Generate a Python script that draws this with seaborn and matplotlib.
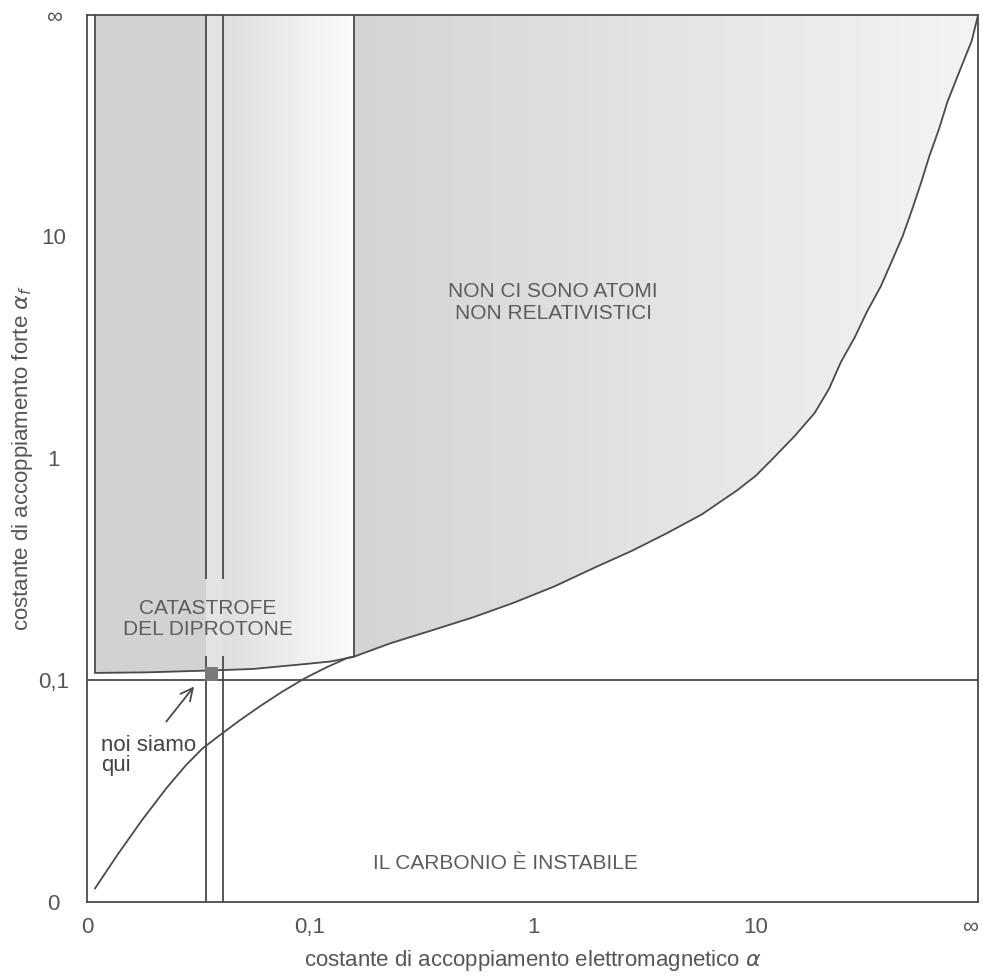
import numpy as np
import matplotlib
matplotlib.use("Agg")
import matplotlib.pyplot as plt
import seaborn as sns
from matplotlib import font_manager
from matplotlib.colors import LinearSegmentedColormap

np.seterr(divide="ignore", invalid="ignore")

INF = 1e300  # stands in for the "infinity" end of both axes

# ticks (same on both axes)
tick_values = [0, 0.1, 1, 10, INF]
tick_labels = ["0", "0,1", "1", "10", "\u221e"]

# carbon stability boundary: alpha (em) vs alpha_s (strong)
curve_alpha = [1e-36, 7.4e-10, 8.5e-6, 3.3e-4, 1.76e-3, 4.7e-3, 9.8e-3, 0.021, 0.037,
               0.061, 0.092, 0.129, 0.172, 0.1855, 0.281, 0.413, 0.608, 0.854, 1.19,
               1.69, 2.29, 3.22, 4.76, 7.5, 10, 13.5, 20.9, 34, 51.8, 77.4, 138, 251,
               596, 1422, 4253, 1.5e4, 6.9e4, 4.7e5, 1.15e7, 8.7e8, 9e14, 4e38, INF]
curve_alphas = [1e-21, 1.45e-6, 4.6e-4, 4.5e-3, 0.0125, 0.0219, 0.0311, 0.0461, 0.0625,
                0.0823, 0.103, 0.122, 0.140, 0.142, 0.170, 0.198, 0.233, 0.274, 0.325,
                0.394, 0.455, 0.533, 0.629, 0.768, 0.867, 1.0, 1.2, 1.45, 1.78, 2.25,
                2.86, 3.71, 4.96, 6.86, 10, 16.3, 29.9, 66.9, 213, 1300, 1e5, 3e10, INF]

# diprotone boundary (bottom of the shaded block on the left)
dipro_alpha = [1e-36, 2.3e-5, 1 / 180, 1 / 85, 0.031, 0.092, 0.138, 0.1855]
dipro_alphas = [0.112, 0.113, 0.116, 0.117, 0.119, 0.128, 0.133, 0.142]

alpha_min = 1e-36          # left edge of the diprotone block
alpha_band = [1 / 180, 1 / 85]
band_gap = [0.143, 0.35]   # band lines are cut where the label sits
alpha_rel = 0.1855         # relativistic atoms limit
alphas_carbon = 0.1
alpha_here, alphas_here = 1 / 137, 0.11
arrow_tail = (2.7e-4, 0.0427)
arrow_head = (3.3e-3, 0.0932)

LINE = "#4a4a4a"
TEXT = "#5c5c5c"
AXTXT = "#555555"


def fwd(a):
    a = np.asarray(a, dtype=float)
    return 2 + 4 / np.pi * np.arctan(np.log10(a))


def inv(t):
    t = np.asarray(t, dtype=float)
    return 10 ** np.tan((t - 2) * np.pi / 4)


def xfrac(a):
    return float(fwd(a) / fwd(INF))


sns.set_theme(style="white")
plt.rcParams["font.family"] = ["Liberation Sans", "DejaVu Sans"]

# axis texts are set in a condensed face in the original
try:
    font_manager.findfont(font_manager.FontProperties(family="Liberation Sans Narrow"),
                          fallback_to_default=False)
    AX_FAMILY, AX_SIZE = ["Liberation Sans Narrow", "DejaVu Sans"], 18.5
except ValueError:
    AX_FAMILY, AX_SIZE = ["Liberation Sans", "DejaVu Sans"], 16

fig = plt.figure(figsize=(9.83, 9.76), dpi=100)
ax = fig.add_axes([0.0885, 0.0758, 0.9065, 0.9088])
ax.set_xscale("function", functions=(fwd, inv))
ax.set_yscale("function", functions=(fwd, inv))

x = np.array(dipro_alpha)
y = np.array(dipro_alphas)
ca = np.array(curve_alpha)
cs = np.array(curve_alphas)


def shade(xs, y1, y2, where, c0, c1, x0, x1):
    poly = ax.fill_between(xs, y1, y2, where=where, color="none", lw=0)
    cmap = LinearSegmentedColormap.from_list("g", [c0, c1])
    im = ax.imshow(np.linspace(0, 1, 256).reshape(1, -1), cmap=cmap,
                   extent=(x0, x1, 0, 1), transform=ax.transAxes,
                   aspect="auto", zorder=0, interpolation="bilinear")
    im.set_clip_path(poly.get_paths()[0], poly.get_transform())


# shaded regions
ax.fill_between(x, y, INF, where=x <= alpha_band[0], color="#d2d2d2", lw=0, zorder=0.5)
ax.fill_between(x, y, INF, where=(x >= alpha_band[0]) & (x <= alpha_band[1]),
                color="#e3e3e3", lw=0, zorder=0.5)
shade(x, y, INF, x >= alpha_band[1], "#dedede", "#fcfcfc",
      xfrac(alpha_band[1]), xfrac(alpha_rel))
shade(ca, cs, INF, ca >= alpha_rel, "#d4d4d4", "#f4f4f4", xfrac(alpha_rel), 1.0)

# boundaries
sns.lineplot(x=curve_alpha, y=curve_alphas, ax=ax, color=LINE, lw=1.3,
             sort=False, estimator=None)
sns.lineplot(x=dipro_alpha, y=dipro_alphas, ax=ax, color=LINE, lw=1.3,
             sort=False, estimator=None)
ax.vlines(alpha_min, dipro_alphas[0], INF, color=LINE, lw=1.3)
ax.vlines(alpha_rel, dipro_alphas[-1], INF, color=LINE, lw=1.3)
ax.vlines(alpha_band, 0, band_gap[0], color=LINE, lw=1.3)
ax.vlines(alpha_band, band_gap[1], INF, color=LINE, lw=1.3)
ax.hlines(alphas_carbon, 0, INF, color=LINE, lw=1.3)

# we are here
sns.scatterplot(x=[alpha_here], y=[alphas_here], ax=ax, marker="s", s=90,
                color="#7a7a7a", edgecolor="none", zorder=5)
ax.annotate("", xy=arrow_head, xytext=arrow_tail,
            arrowprops=dict(arrowstyle="->", color=LINE, lw=1.3, mutation_scale=22))

# labels inside the plot
ax.text(0.0157, 0.188, "noi siamo\nqui", transform=ax.transAxes, ha="left", va="top",
        fontsize=16, color="#444444", linespacing=0.95)
ax.text(0.136, 0.319, "CATASTROFE\nDEL DIPROTONE", transform=ax.transAxes,
        ha="center", va="center", fontsize=15, color=TEXT, linespacing=1.15)
ax.text(0.523, 0.676, "NON CI SONO ATOMI\nNON RELATIVISTICI", transform=ax.transAxes,
        ha="center", va="center", fontsize=15, color=TEXT, linespacing=1.15)
ax.text(0.47, 0.043, "IL CARBONIO \u00c8 INSTABILE", transform=ax.transAxes,
        ha="center", va="center", fontsize=15, color=TEXT)

# axes
ax.set_xlim(0, INF)
ax.set_ylim(0, INF)
ax.set_xticks(tick_values)
ax.set_xticklabels(tick_labels, family=AX_FAMILY, fontsize=AX_SIZE)
ax.set_yticks(tick_values)
ax.set_yticklabels(tick_labels, family=AX_FAMILY, fontsize=AX_SIZE)
ax.tick_params(axis="both", length=0, labelcolor=AXTXT)
ax.tick_params(axis="x", pad=11)
ax.tick_params(axis="y", pad=24)
for lbl in ax.get_yticklabels():
    lbl.set_ha("center")
ax.get_xticklabels()[-1].set_ha("right")
ax.set_xlabel("costante di accoppiamento elettromagnetico $\\alpha$", family=AX_FAMILY,
              fontsize=AX_SIZE, color=AXTXT, labelpad=7)
ax.set_ylabel("costante di accoppiamento forte $\\alpha_f$", family=AX_FAMILY,
              fontsize=AX_SIZE, color=AXTXT, labelpad=2)
for s in ax.spines.values():
    s.set_color(LINE)
    s.set_linewidth(1.3)
ax.grid(False)

fig.savefig("out.png", dpi=100, facecolor="white")
